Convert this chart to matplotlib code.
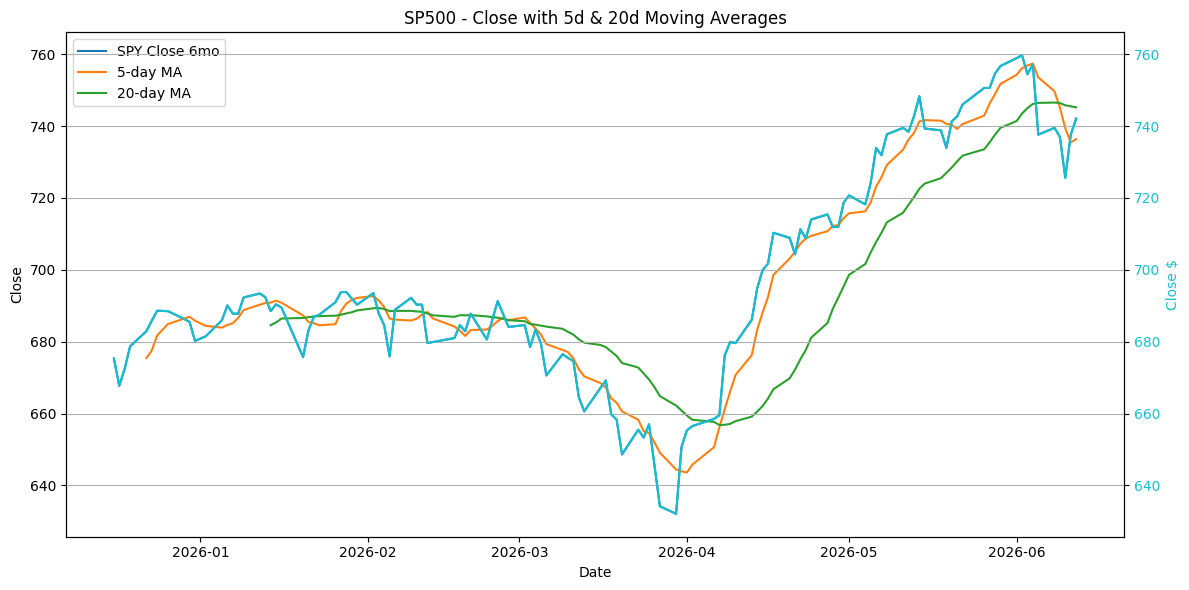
import pandas as pd
import matplotlib.pyplot as plt

# Trading days (US market holidays removed)
holidays = ['2025-12-25', '2026-01-01', '2026-01-19', '2026-02-16',
            '2026-04-03', '2026-05-25']
dates = pd.bdate_range('2025-12-16', '2026-06-12', freq='C', holidays=holidays)

# SPY closes, month by month
dec = [675.3, 667.7, 672.5, 678.7, 682.9, 685.8, 688.6, 688.5, 686.3, 685.5, 680.2]
jan = [681.5, 686.0, 690.1, 687.8, 687.8, 692.3, 693.4, 692.4, 688.5, 690.4,
       689.5, 675.7, 683.2, 686.9, 687.5, 691.0, 693.8, 693.8, 692.0, 690.3]
feb = [693.5, 687.8, 684.6, 675.9, 688.9, 692.2, 690.3, 690.3, 679.6, 679.9,
       681.0, 684.6, 682.9, 687.8, 680.6, 686.1, 691.3, 687.7, 684.1]
mar = [684.6, 678.5, 683.4, 679.5, 670.6, 676.5, 675.5, 674.6, 664.6, 660.6,
       667.1, 669.2, 659.8, 658.3, 648.6, 655.5, 653.3, 657.0, 645.6, 634.2,
       632.1, 650.7]
apr = [655.3, 656.5, 658.5, 659.5, 676.2, 679.9, 679.6, 686.1, 694.8, 699.9,
       701.7, 710.3, 708.9, 704.3, 711.3, 708.7, 714.0, 715.4, 711.9, 711.9,
       718.7]
may = [720.7, 718.2, 724.2, 733.9, 731.9, 737.7, 739.5, 738.4, 742.7, 748.3,
       739.3, 738.8, 733.9, 741.3, 742.7, 746.0, 750.6, 750.6, 754.6, 756.7]
jun = [758.9, 759.7, 754.4, 757.2, 737.6, 739.5, 737.0, 725.6, 737.5, 742.1]

close = pd.Series(dec + jan + feb + mar + apr + may + jun, index=dates)
ma5 = close.rolling(5).mean()
ma20 = close.rolling(20).mean()

fig, ax1 = plt.subplots(figsize=(12, 6), dpi=100)

ax1.plot(close.index, close, label='SPY Close 6mo')
ax1.plot(ma5.index, ma5, label='5-day MA')
ax1.plot(ma20.index, ma20, label='20-day MA')
ax1.set_xlabel('Date')
ax1.set_ylabel('Close')
ax1.set_title('SP500 - Close with 5d & 20d Moving Averages')
ax1.legend(loc='upper left')

# second axis with the close again
ax2 = ax1.twinx()
ax2.plot(close.index, close, color='tab:cyan')
ax2.set_ylabel('Close $', color='tab:cyan')
ax2.tick_params(axis='y', labelcolor='tab:cyan')
ax2.grid(True)

plt.tight_layout()
plt.savefig('out.png', dpi=100, bbox_inches='tight')
